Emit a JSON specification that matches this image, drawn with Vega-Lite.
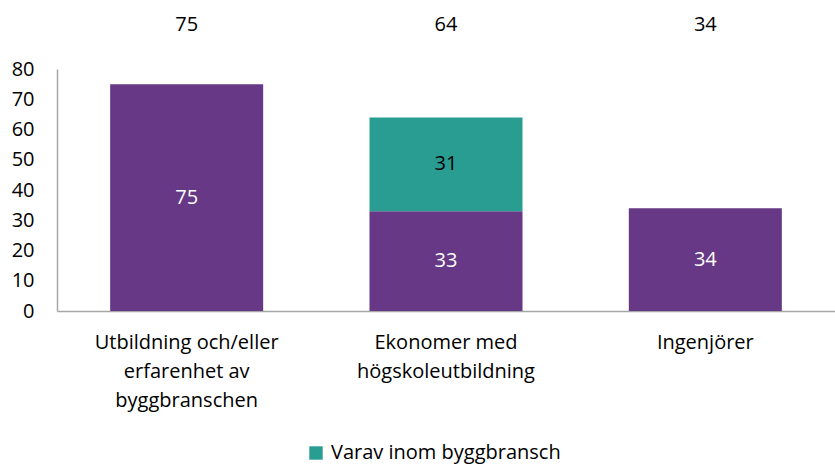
{
  "$schema": "https://vega.github.io/schema/vega-lite/v6.json",
  "autosize": "none",
  "padding": {"left": 57, "top": 69, "right": 0, "bottom": 155},
  "width": 778,
  "height": 242,
  "config": {
    "view": {"stroke": null},
    "font": "Open Sans",
    "axis": {"labelFont": "Open Sans", "labelColor": "#000000", "labelFontSize": 20, "domainColor": "#a6a6a6", "domainWidth": 1.5, "ticks": false, "grid": false, "title": null, "labelOverlap": false, "labelLimit": 0},
    "legend": {"labelFont": "Open Sans", "labelFontSize": 20, "labelColor": "#000000", "labelLimit": 0}
  },
  "data": {
    "values": [
      {"kategori": "Utbildning och/eller|erfarenhet av|byggbranschen", "serie": "Totalt", "varde": 75, "ordning": 1, "total": 75},
      {"kategori": "Ekonomer med|högskoleutbildning", "serie": "Totalt", "varde": 33, "ordning": 1, "total": 64},
      {"kategori": "Ekonomer med|högskoleutbildning", "serie": "Varav inom byggbransch", "varde": 31, "ordning": 2, "total": 64},
      {"kategori": "Ingenjörer", "serie": "Totalt", "varde": 34, "ordning": 1, "total": 34}
    ]
  },
  "transform": [
    {"stack": "varde", "groupby": ["kategori"], "sort": [{"field": "ordning"}], "as": ["y0", "y1"]},
    {"calculate": "(datum.y0 + datum.y1) / 2", "as": "ymid"}
  ],
  "encoding": {
    "x": {
      "field": "kategori", "type": "nominal", "sort": null,
      "scale": {"paddingInner": 0.41, "paddingOuter": 0.205},
      "axis": {"labelAngle": 0, "labelPadding": 21, "labelExpr": "split(datum.label, '|')", "labelLineHeight": 29, "labelBaseline": "top", "labelLimit": 0}
    },
    "y": {"field": "y0", "type": "quantitative", "scale": {"domain": [0, 80]}, "axis": {"values": [0,10,20,30,40,50,60,70,80], "labelPadding": 23, "labelOverlap": false, "labelFlush": false}}
  },
  "layer": [
    {
      "mark": {"type": "bar"},
      "encoding": {
        "y2": {"field": "y1"},
        "color": {
          "field": "serie", "type": "nominal",
          "scale": {"domain": ["Totalt", "Varav inom byggbransch"], "range": ["#673886", "#2a9d93"]},
          "legend": {"orient": "none", "legendX": 249, "legendY": 374, "direction": "horizontal", "values": ["Varav inom byggbransch"], "title": null, "symbolType": "square", "symbolSize": 180, "symbolStrokeWidth": 0, "symbolOffset": 0, "labelOffset": 5}
        }
      }
    },
    {
      "mark": {"type": "text", "fontSize": 20, "font": "Open Sans"},
      "encoding": {
        "y": {"field": "ymid", "type": "quantitative"},
        "text": {"field": "varde", "type": "quantitative"},
        "color": {"condition": {"test": "datum.serie === 'Totalt'", "value": "#ffffff"}, "value": "#000000"}
      }
    },
    {
      "transform": [{"filter": "datum.ordning === 1"}],
      "mark": {"type": "text", "fontSize": 20, "font": "Open Sans", "color": "#000000", "clip": false},
      "encoding": {
        "y": {"datum": 94.5, "type": "quantitative"},
        "text": {"field": "total", "type": "quantitative"}
      }
    }
  ]
}
